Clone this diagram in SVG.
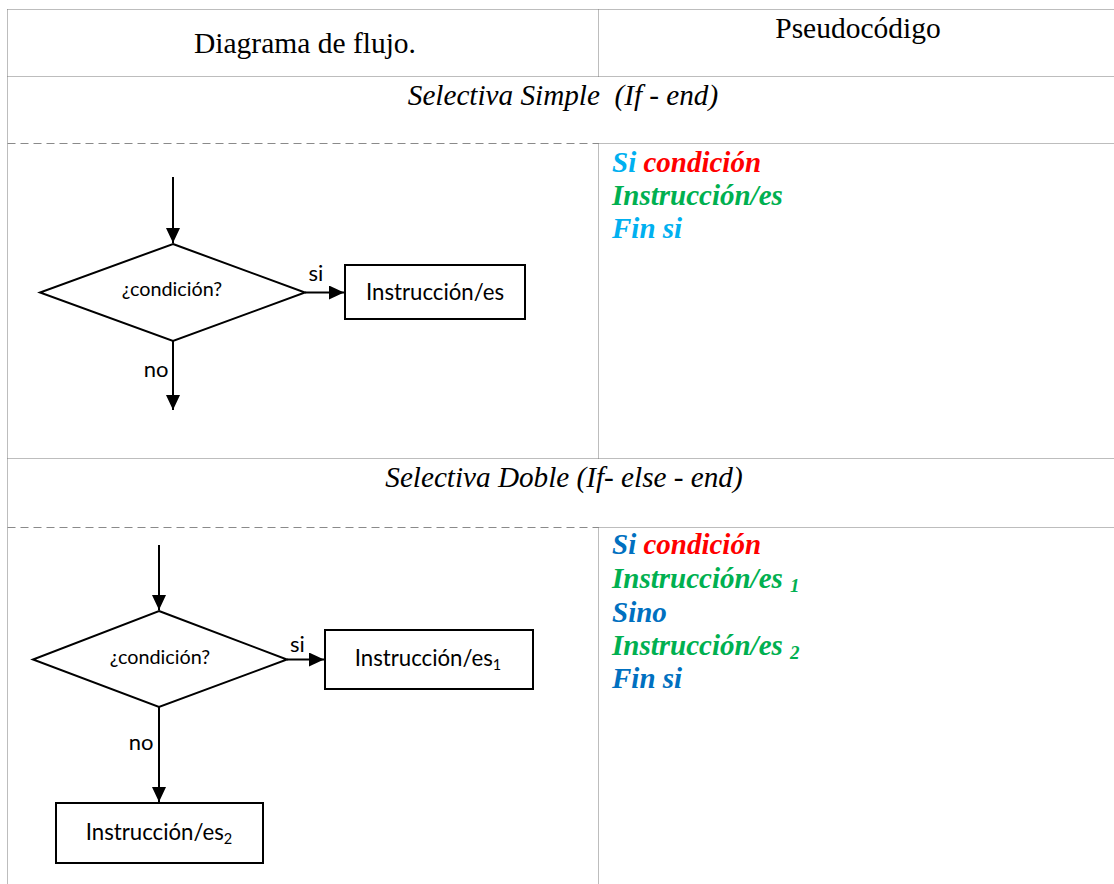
<svg xmlns="http://www.w3.org/2000/svg" width="1114" height="884" viewBox="0 0 1114 884">
  <style>
    .grid { stroke: #7a7a7a; stroke-width: 1; stroke-dasharray: 1 1; fill: none; }
    .gridDash { stroke: #8a8a8a; stroke-width: 1.2; stroke-dasharray: 8 5; fill: none; }
    .head { font-family: "Liberation Serif", "Times New Roman", serif; font-size: 29.5px; fill: #000; }
    .sect { font-family: "Liberation Serif", "Times New Roman", serif; font-size: 29.2px; font-style: italic; fill: #000; }
    .code { font-family: "Liberation Serif", "Times New Roman", serif; font-size: 29px; font-style: italic; font-weight: bold; }
    .shape { fill: #fff; stroke: #000; stroke-width: 2; }
    .lbl { font-family: Lato, "Liberation Sans", sans-serif; fill: #000; }
    .edge { stroke: #000; stroke-width: 2; fill: none; }
    .kw1 { fill: #00B0F0; }
    .kw2 { fill: #0070C0; }
    .cond { fill: #FF0000; }
    .ins { fill: #00B050; }
  </style>
  <defs>
    <marker id="arrow" viewBox="0 0 15 14" refX="15" refY="7" markerWidth="15" markerHeight="14" markerUnits="userSpaceOnUse" orient="auto">
      <path d="M0,0 L15,7 L0,14 Z" fill="#000"/>
    </marker>
  </defs>

  <rect x="0" y="0" width="1114" height="884" fill="#fff"/>

  <!-- table grid -->
  <g id="table">
    <line class="grid" x1="7.5" y1="9.5" x2="1114" y2="9.5"/>
    <line class="grid" x1="7.5" y1="9.5" x2="7.5" y2="884"/>
    <line class="grid" x1="7.5" y1="76.5" x2="1114" y2="76.5"/>
    <line class="grid" x1="598.5" y1="9.5" x2="598.5" y2="76.5"/>
    <line class="gridDash" x1="7.5" y1="143.5" x2="598.5" y2="143.5"/>
    <line class="grid" x1="598.5" y1="143.5" x2="1114" y2="143.5"/>
    <line class="grid" x1="598.5" y1="143.5" x2="598.5" y2="458.5"/>
    <line class="grid" x1="7.5" y1="458.5" x2="1114" y2="458.5"/>
    <line class="gridDash" x1="7.5" y1="527.5" x2="598.5" y2="527.5"/>
    <line class="grid" x1="598.5" y1="527.5" x2="1114" y2="527.5"/>
    <line class="grid" x1="598.5" y1="527.5" x2="598.5" y2="884"/>
  </g>

  <!-- headings -->
  <g id="headings">
    <text class="head" x="305" y="53" text-anchor="middle">Diagrama de flujo.</text>
    <text class="head" x="858" y="38" text-anchor="middle">Pseudocódigo</text>
    <text class="sect" x="563" y="105" text-anchor="middle" xml:space="preserve">Selectiva Simple  (If - end)</text>
    <text class="sect" x="564" y="487" text-anchor="middle">Selectiva Doble (If- else - end)</text>
  </g>

  <!-- connectors -->
  <g id="connectors">
    <line class="edge" x1="173" y1="177" x2="173" y2="243" marker-end="url(#arrow)"/>
    <line class="edge" x1="305" y1="292.5" x2="344" y2="292.5" marker-end="url(#arrow)"/>
    <line class="edge" x1="173" y1="341" x2="173" y2="410" marker-end="url(#arrow)"/>
    <line class="edge" x1="159" y1="545" x2="159" y2="610" marker-end="url(#arrow)"/>
    <line class="edge" x1="287" y1="659.5" x2="324" y2="659.5" marker-end="url(#arrow)"/>
    <line class="edge" x1="159" y1="707" x2="159" y2="802" marker-end="url(#arrow)"/>
    <text class="lbl" x="316" y="281" font-size="22" text-anchor="middle">si</text>
    <text class="lbl" x="156" y="377" font-size="22" text-anchor="middle">no</text>
    <text class="lbl" x="297.5" y="652" font-size="22" text-anchor="middle">si</text>
    <text class="lbl" x="141" y="750" font-size="22" text-anchor="middle">no</text>
  </g>

  <!-- simple selection flowchart -->
  <g id="decision1">
    <polygon class="shape" points="173,244 305,292.5 173,341 40,292.5"/>
    <text class="lbl" x="172" y="296" font-size="19.8" text-anchor="middle">¿condición?</text>
  </g>
  <g id="action1">
    <rect class="shape" x="345" y="265" width="180" height="54"/>
    <text class="lbl" x="435" y="300" font-size="22.2" text-anchor="middle">Instrucción/es</text>
  </g>

  <!-- double selection flowchart -->
  <g id="decision2">
    <polygon class="shape" points="159,611 287,659.5 159,707 33,659.5"/>
    <text class="lbl" x="160" y="664" font-size="19.8" text-anchor="middle">¿condición?</text>
  </g>
  <g id="action2">
    <rect class="shape" x="325" y="630" width="208" height="59"/>
    <text class="lbl" x="428" y="666" font-size="22.2" text-anchor="middle">Instrucción/es<tspan font-size="14.5" dy="4">1</tspan></text>
  </g>
  <g id="action3">
    <rect class="shape" x="56" y="803" width="207" height="60"/>
    <text class="lbl" x="159" y="840" font-size="22.2" text-anchor="middle">Instrucción/es<tspan font-size="14.5" dy="4">2</tspan></text>
  </g>

  <!-- pseudocode, simple selection -->
  <g id="pseudo1" class="code">
    <text x="612" y="172"><tspan class="kw1">Si</tspan> <tspan class="cond">condición</tspan></text>
    <text x="612" y="205" class="ins">Instrucción/es</text>
    <text x="612" y="238" class="kw1">Fin si</text>
  </g>

  <!-- pseudocode, double selection -->
  <g id="pseudo2" class="code">
    <text x="612" y="554"><tspan class="kw2">Si</tspan> <tspan class="cond">condición</tspan></text>
    <text x="612" y="588" class="ins">Instrucción/es <tspan font-size="19" dy="4">1</tspan></text>
    <text x="612" y="622" class="kw2">Sino</text>
    <text x="612" y="655" class="ins">Instrucción/es <tspan font-size="19" dy="4">2</tspan></text>
    <text x="612" y="688" class="kw2">Fin si</text>
  </g>
</svg>
